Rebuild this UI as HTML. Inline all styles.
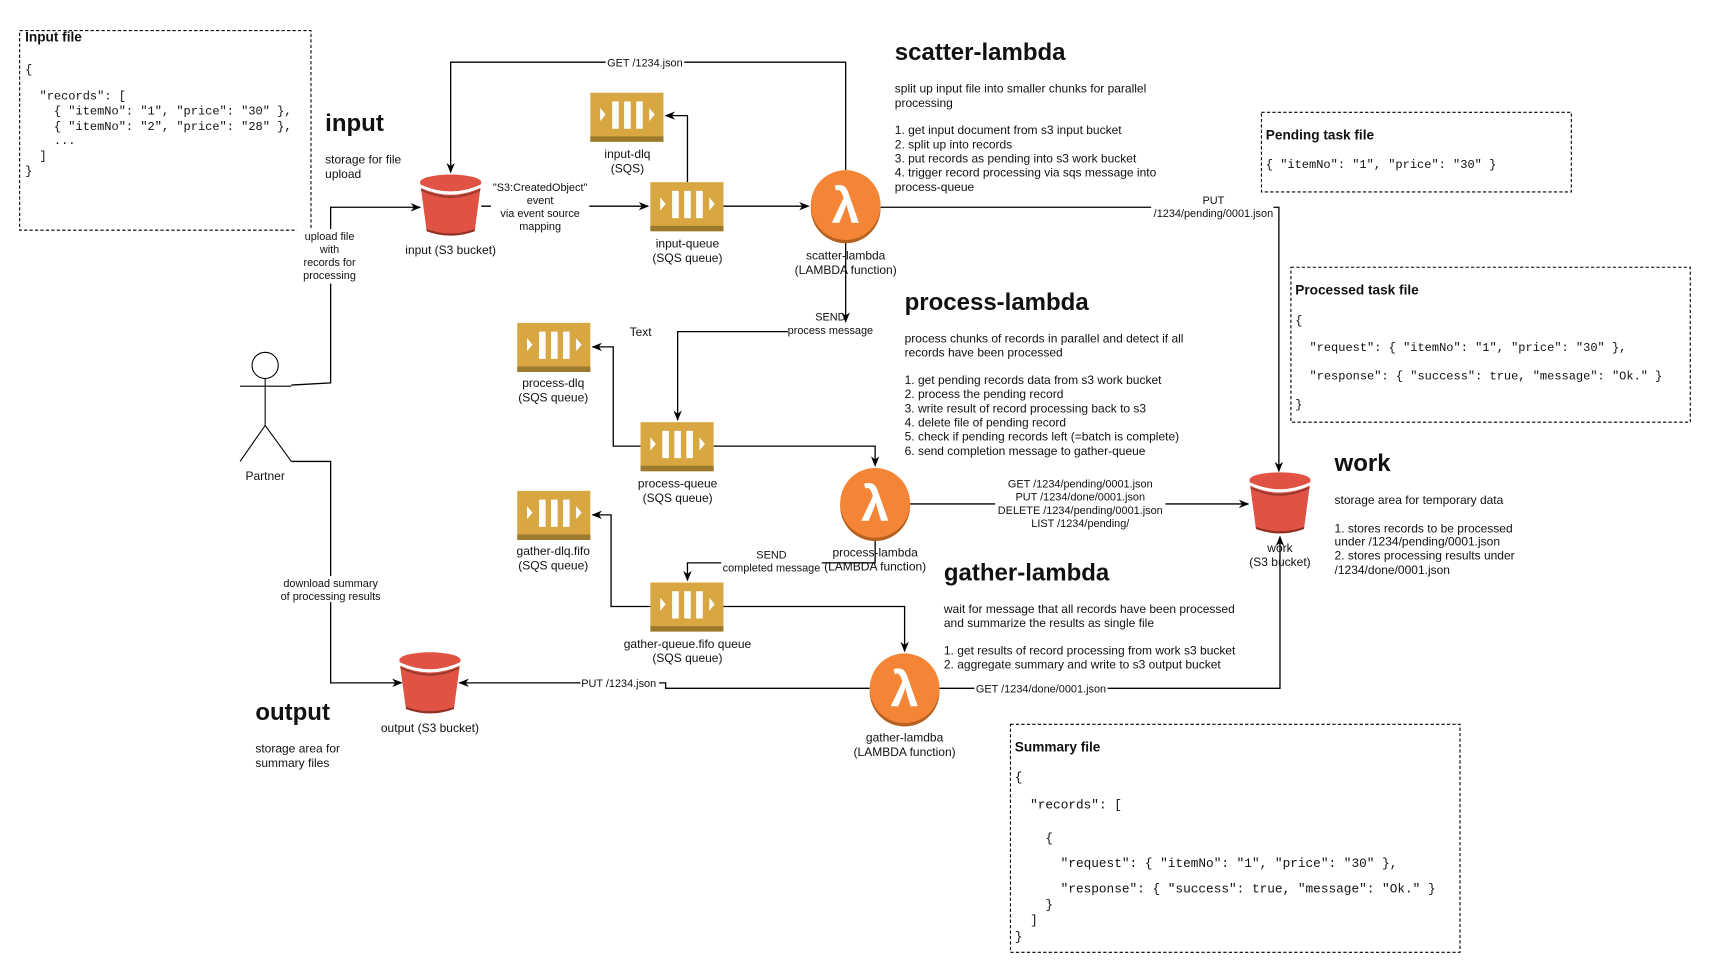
<!DOCTYPE html>
<html><head><meta charset="utf-8"><style>
html,body{margin:0;padding:0;background:#fff;}
svg{display:block;}
text{font-family:"Liberation Sans",sans-serif;font-size:11px;fill:#111;}
.c{text-anchor:middle;}
.h{font-size:22px;font-weight:bold;}
.b{font-size:12.5px;font-weight:bold;}
.m{font-family:"Liberation Mono",monospace;font-size:11.2px;}
.m1{font-family:"Liberation Mono",monospace;font-size:11px;}
.m2{font-family:"Liberation Mono",monospace;font-size:11.7px;}
.l{fill:none;stroke:#000;stroke-width:1.2;}
.d{fill:none;stroke:#000;stroke-width:1;stroke-dasharray:3,2;}
.bg{fill:#fff;}
</style></head><body>
<svg width="1711" height="973" viewBox="0 0 1568 892" preserveAspectRatio="none" xmlns="http://www.w3.org/2000/svg">
<defs>
<marker id="a" viewBox="0 0 10 10" refX="9" refY="5" markerWidth="8" markerHeight="8" orient="auto"><path d="M0,1 L10,5 L0,9 L3,5 z" fill="#000"/></marker>
<g id="sqs">
<rect x="0" y="0" width="67" height="45" fill="#D9A741"/>
<rect x="0" y="40" width="67" height="5" fill="#9B7A2E"/>
<path d="M9,14 L14,20 L9,26 z" fill="#fff"/>
<rect x="20" y="8" width="6" height="25" fill="#fff"/>
<rect x="31" y="8" width="6" height="25" fill="#fff"/>
<rect x="42" y="8" width="6" height="25" fill="#fff"/>
<path d="M54,14 L59,20 L54,26 z" fill="#fff"/>
</g>
<g id="bkt">
<path d="M0,7 L6,52 Q28,60 50,52 L56,7 z" fill="#E05243"/>
<path d="M6,50 Q28,58 50,50 L50,52 Q28,60 6,52z" fill="#8C3123"/>
<ellipse cx="28" cy="7" rx="28" ry="7" fill="#E05243"/>
<path d="M0,9 Q28,22 56,9 L56,12 Q28,25 0,12 z" fill="#fff"/>
<path d="M1,13 Q28,26 55,13 L55,15 Q28,28 1,15 z" fill="#9B3A2E"/>
</g>
<g id="lam">
<circle cx="0" cy="3" r="32" fill="#B6601F"/>
<circle cx="0" cy="0" r="32" fill="#F58536"/>
<text x="0" y="16" class="c" style="font-size:46px;font-weight:bold;fill:#fff;">λ</text>
</g>
</defs>

<rect x="18" y="28" width="267" height="183" class="d"/>
<text x="23" y="38" class="b">Input file</text>
<text x="23" y="67" class="m1">{</text>
<text x="23" y="91" class="m1" xml:space="preserve">  "records": [</text>
<text x="23" y="105" class="m1" xml:space="preserve">    { "itemNo": "1", "price": "30" },</text>
<text x="23" y="119" class="m1" xml:space="preserve">    { "itemNo": "2", "price": "28" },</text>
<text x="23" y="132" class="m1" xml:space="preserve">    ...</text>
<text x="23" y="146" class="m1" xml:space="preserve">  ]</text>
<text x="23" y="160" class="m1">}</text>

<text x="298" y="120" class="h">input</text>
<text x="298" y="150">storage for file</text>
<text x="298" y="163">upload</text>

<polyline points="775,156 775,57 413,57 413,158" class="l" marker-end="url(#a)"/>
<rect x="555" y="51" width="72" height="12" class="bg"/>
<text x="591" y="61" class="c" style="font-size:10px">GET /1234.json</text>

<line x1="441" y1="189" x2="594" y2="189" class="l" marker-end="url(#a)"/>
<rect x="450" y="165" width="90" height="50" class="bg"/>
<text x="495" y="175" class="c" style="font-size:10px">"S3:CreatedObject"</text>
<text x="495" y="187" class="c" style="font-size:10px">event</text>
<text x="495" y="199" class="c" style="font-size:10px">via event source</text>
<text x="495" y="211" class="c" style="font-size:10px">mapping</text>

<polyline points="630,167 630,106 610,106" class="l" marker-end="url(#a)"/>
<line x1="663" y1="189" x2="741" y2="189" class="l" marker-end="url(#a)"/>

<polyline points="807,190 1172,190 1172,432" class="l" marker-end="url(#a)"/>
<rect x="1055" y="178" width="112" height="24" class="bg"/>
<text x="1112" y="187" class="c" style="font-size:10px">PUT</text>
<text x="1112" y="199" class="c" style="font-size:10px">/1234/pending/0001.json</text>

<polyline points="775,220 775,295" class="l" marker-end="url(#a)"/>
<polyline points="722,304 621,304 621,385" class="l" marker-end="url(#a)"/>
<text x="761" y="294" class="c" style="font-size:10px">SEND</text>
<text x="761" y="306" class="c" style="font-size:10px">process message</text>
<text x="577" y="308">Text</text>

<circle cx="243" cy="335" r="12" fill="#fff" stroke="#000"/>
<line x1="243" y1="347" x2="243" y2="390" stroke="#000"/>
<line x1="220" y1="354" x2="267" y2="354" stroke="#000"/>
<polyline points="220,423 243,390 267,423" fill="none" stroke="#000"/>
<text x="243" y="440" class="c">Partner</text>

<polyline points="267,353 303,351 303,190 385,190" class="l" marker-end="url(#a)"/>
<rect x="272" y="210" width="62" height="50" class="bg"/>
<text x="302" y="220" class="c" style="font-size:10px">upload file</text>
<text x="302" y="232" class="c" style="font-size:10px">with</text>
<text x="302" y="244" class="c" style="font-size:10px">records for</text>
<text x="302" y="256" class="c" style="font-size:10px">processing</text>

<polyline points="267,423 303,423 303,626 368,626" class="l" marker-end="url(#a)"/>
<rect x="255" y="528" width="96" height="24" class="bg"/>
<text x="303" y="538" class="c" style="font-size:10px">download summary</text>
<text x="303" y="550" class="c" style="font-size:10px">of processing results</text>

<polyline points="587,409 562,409 562,318 543,318" class="l" marker-end="url(#a)"/>
<polyline points="654,409 802,409 802,427" class="l" marker-end="url(#a)"/>

<line x1="834" y1="462" x2="1144" y2="462" class="l" marker-end="url(#a)"/>
<rect x="912" y="437" width="156" height="50" class="bg"/>
<text x="990" y="447" class="c" style="font-size:10px">GET /1234/pending/0001.json</text>
<text x="990" y="459" class="c" style="font-size:10px">PUT /1234/done/0001.json</text>
<text x="990" y="471" class="c" style="font-size:10px">DELETE /1234/pending/0001.json</text>
<text x="990" y="483" class="c" style="font-size:10px">LIST /1234/pending/</text>

<polyline points="802,493 802,516 630,516 630,532" class="l" marker-end="url(#a)"/>
<rect x="661" y="503" width="92" height="24" class="bg"/>
<text x="707" y="512" class="c" style="font-size:10px">SEND</text>
<text x="707" y="524" class="c" style="font-size:10px">completed message</text>

<polyline points="596,556 560,556 560,472 543,472" class="l" marker-end="url(#a)"/>
<polyline points="663,556 829,556 829,597" class="l" marker-end="url(#a)"/>

<polyline points="797,631 610,631 610,626 421,626" class="l" marker-end="url(#a)"/>
<rect x="532" y="620" width="72" height="12" class="bg"/>
<text x="567" y="630" class="c" style="font-size:10px">PUT /1234.json</text>

<polyline points="861,631 1173,631 1173,492" class="l" marker-end="url(#a)"/>
<rect x="893" y="626" width="122" height="12" class="bg"/>
<text x="954" y="635" class="c" style="font-size:10px">GET /1234/done/0001.json</text>

<use href="#bkt" x="385" y="160"/>
<text x="413" y="233" class="c">input (S3 bucket)</text>
<use href="#sqs" x="541" y="85"/>
<text x="575" y="145" class="c">input-dlq</text>
<text x="575" y="158" class="c">(SQS)</text>
<use href="#sqs" x="596" y="167"/>
<text x="630" y="227" class="c">input-queue</text>
<text x="630" y="240" class="c">(SQS queue)</text>
<use href="#lam" x="775" y="188"/>
<text x="775" y="238" class="c">scatter-lambda</text>
<text x="775" y="251" class="c">(LAMBDA function)</text>

<use href="#sqs" x="474" y="296"/>
<text x="507" y="355" class="c">process-dlq</text>
<text x="507" y="368" class="c">(SQS queue)</text>
<use href="#sqs" x="587" y="387"/>
<text x="621" y="447" class="c">process-queue</text>
<text x="621" y="460" class="c">(SQS queue)</text>
<use href="#lam" x="802" y="461"/>
<text x="802" y="510" class="c">process-lambda</text>
<text x="802" y="523" class="c">(LAMBDA function)</text>

<use href="#sqs" x="474" y="450"/>
<text x="507" y="509" class="c">gather-dlq.fifo</text>
<text x="507" y="522" class="c">(SQS queue)</text>
<use href="#sqs" x="596" y="534"/>
<text x="630" y="594" class="c">gather-queue.fifo queue</text>
<text x="630" y="607" class="c">(SQS queue)</text>
<use href="#lam" x="829" y="631"/>
<text x="829" y="680" class="c">gather-lamdba</text>
<text x="829" y="693" class="c">(LAMBDA function)</text>

<use href="#bkt" x="1145" y="433"/>
<text x="1173" y="506" class="c">work</text>
<text x="1173" y="519" class="c">(S3 bucket)</text>
<use href="#bkt" x="366" y="598"/>
<text x="394" y="671" class="c">output (S3 bucket)</text>

<text x="820" y="55" class="h">scatter-lambda</text>
<text x="820" y="85">split up input file into smaller chunks for parallel</text>
<text x="820" y="98">processing</text>
<text x="820" y="123">1. get input document from s3 input bucket</text>
<text x="820" y="136">2. split up into records</text>
<text x="820" y="149">3. put records as pending into s3 work bucket</text>
<text x="820" y="162">4. trigger record processing via sqs message into</text>
<text x="820" y="175">process-queue</text>

<text x="829" y="284" class="h">process-lambda</text>
<text x="829" y="314">process chunks of records in parallel and detect if all</text>
<text x="829" y="327">records have been processed</text>
<text x="829" y="352">1. get pending records data from s3 work bucket</text>
<text x="829" y="365">2. process the pending record</text>
<text x="829" y="378">3. write result of record processing back to s3</text>
<text x="829" y="391">4. delete file of pending record</text>
<text x="829" y="404">5. check if pending records left (=batch is complete)</text>
<text x="829" y="417">6. send completion message to gather-queue</text>

<text x="865" y="532" class="h">gather-lambda</text>
<text x="865" y="562">wait for message that all records have been processed</text>
<text x="865" y="575">and summarize the results as single file</text>
<text x="865" y="600">1. get results of record processing from work s3 bucket</text>
<text x="865" y="613">2. aggregate summary and write to s3 output bucket</text>

<text x="1223" y="432" class="h">work</text>
<text x="1223" y="462">storage area for temporary data</text>
<text x="1223" y="488">1. stores records to be processed</text>
<text x="1223" y="500">under /1234/pending/0001.json</text>
<text x="1223" y="513">2. stores processing results under</text>
<text x="1223" y="526">/1234/done/0001.json</text>

<text x="234" y="660" class="h">output</text>
<text x="234" y="690">storage area for</text>
<text x="234" y="703">summary files</text>

<rect x="1156" y="103" width="284" height="73" class="d"/>
<text x="1160" y="128" class="b">Pending task file</text>
<text x="1160" y="154" class="m1">{ "itemNo": "1", "price": "30" }</text>

<rect x="1183" y="245" width="366" height="142" class="d"/>
<text x="1187" y="270" class="b">Processed task file</text>
<text x="1187" y="297" class="m1">{</text>
<text x="1200" y="322" class="m1">"request": { "itemNo": "1", "price": "30" },</text>
<text x="1200" y="348" class="m1">"response": { "success": true, "message": "Ok." }</text>
<text x="1187" y="374" class="m1">}</text>

<rect x="926" y="664" width="412" height="209" class="d"/>
<text x="930" y="689" class="b">Summary file</text>
<text x="930" y="716" class="m2">{</text>
<text x="944" y="741" class="m2">"records": [</text>
<text x="958" y="772" class="m2">{</text>
<text x="972" y="795" class="m2">"request": { "itemNo": "1", "price": "30" },</text>
<text x="972" y="818" class="m2">"response": { "success": true, "message": "Ok." }</text>
<text x="958" y="833" class="m2">}</text>
<text x="944" y="847" class="m2">]</text>
<text x="930" y="862" class="m2">}</text>
</svg>
</body></html>
